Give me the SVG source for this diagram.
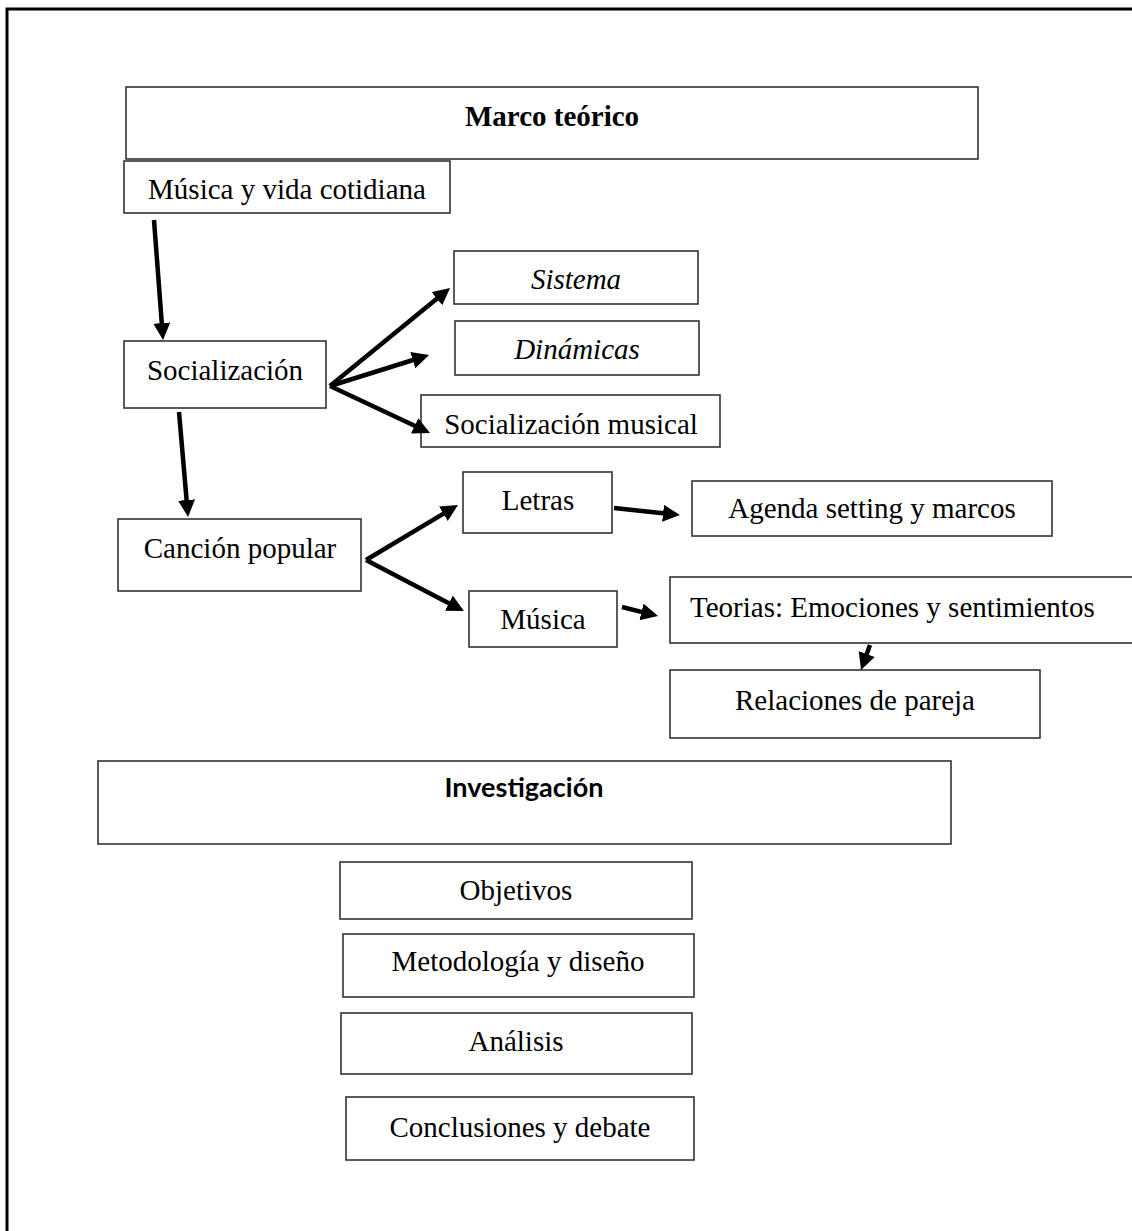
<svg xmlns="http://www.w3.org/2000/svg" width="1132" height="1231" viewBox="0 0 1132 1231">
  <style>
    .box { fill: #ffffff; stroke: #333333; stroke-width: 1.6; }
    .lbl { font-family: "Liberation Serif", "Times New Roman", serif; font-size: 29px; fill: #000000; text-anchor: middle; }
    .start { text-anchor: start; }
    .it { font-style: italic; }
    .bold { font-weight: bold; }
    .sans { font-family: Lato, "Open Sans", "Liberation Sans", sans-serif; font-weight: bold; font-size: 26px; }
    .arrow { fill: none; stroke: #000000; stroke-width: 4.5; stroke-linecap: butt; marker-end: url(#head); }
  </style>
  <defs>
    <marker id="head" markerUnits="userSpaceOnUse" markerWidth="19" markerHeight="18" refX="7" refY="8.5" orient="auto">
      <path d="M0,0 L17,8.5 L0,17 z" fill="#000000"/>
    </marker>
  </defs>

  <rect x="0" y="0" width="1132" height="1231" fill="#ffffff"/>
  <!-- page frame: left and top edges only -->
  <path d="M7,1231 V9 H1132" fill="none" stroke="#000000" stroke-width="3"/>

  <g id="marco-teorico">
    <rect class="box" x="126" y="87" width="852" height="72"/>
    <text class="lbl bold" x="552" y="126">Marco teórico</text>
  </g>
  <g id="musica-vida">
    <rect class="box" x="124" y="161" width="326" height="52"/>
    <text class="lbl" x="287" y="199">Música y vida cotidiana</text>
  </g>
  <g id="socializacion">
    <rect class="box" x="124" y="341" width="202" height="67"/>
    <text class="lbl" x="225" y="380">Socialización</text>
  </g>
  <g id="sistema">
    <rect class="box" x="454" y="251" width="244" height="53"/>
    <text class="lbl it" x="576" y="289">Sistema</text>
  </g>
  <g id="dinamicas">
    <rect class="box" x="455" y="321" width="244" height="54"/>
    <text class="lbl it" x="577" y="359">Dinámicas</text>
  </g>
  <g id="socializacion-musical">
    <rect class="box" x="421" y="395" width="299" height="52"/>
    <text class="lbl" x="571" y="434">Socialización musical</text>
  </g>
  <g id="cancion-popular">
    <rect class="box" x="118" y="519" width="243" height="72"/>
    <text class="lbl" x="240" y="558">Canción popular</text>
  </g>
  <g id="letras">
    <rect class="box" x="463" y="472" width="149" height="61"/>
    <text class="lbl" x="538" y="510">Letras</text>
  </g>
  <g id="agenda">
    <rect class="box" x="692" y="481" width="360" height="55"/>
    <text class="lbl" x="872" y="518">Agenda setting y marcos</text>
  </g>
  <g id="musica">
    <rect class="box" x="469" y="591" width="148" height="56"/>
    <text class="lbl" x="543" y="629">Música</text>
  </g>
  <g id="teorias">
    <rect class="box" x="670" y="577" width="480" height="66"/>
    <text class="lbl start" x="690" y="617">Teorias: Emociones y sentimientos</text>
  </g>
  <g id="relaciones">
    <rect class="box" x="670" y="670" width="370" height="68"/>
    <text class="lbl" x="855" y="710">Relaciones de pareja</text>
  </g>
  <g id="investigacion">
    <rect class="box" x="98" y="761" width="853" height="83"/>
    <text class="lbl sans" x="524" y="797" textLength="159" lengthAdjust="spacingAndGlyphs">Investigación</text>
  </g>
  <g id="objetivos">
    <rect class="box" x="340" y="862" width="352" height="57"/>
    <text class="lbl" x="516" y="900">Objetivos</text>
  </g>
  <g id="metodologia">
    <rect class="box" x="343" y="934" width="351" height="63"/>
    <text class="lbl" x="518" y="971">Metodología y diseño</text>
  </g>
  <g id="analisis">
    <rect class="box" x="341" y="1013" width="351" height="61"/>
    <text class="lbl" x="516" y="1051">Análisis</text>
  </g>
  <g id="conclusiones">
    <rect class="box" x="346" y="1097" width="348" height="63"/>
    <text class="lbl" x="520" y="1137">Conclusiones y debate</text>
  </g>

  <g id="connectors">
    <path class="arrow" d="M154,220 L162.3,330"/>
    <path class="arrow" d="M330,386 L442.3,294.3"/>
    <path class="arrow" d="M330,386 L419.5,358"/>
    <path class="arrow" d="M330,386 L421,428.8"/>
    <path class="arrow" d="M179,412 L187.2,507"/>
    <path class="arrow" d="M366,560 L449.4,510.1"/>
    <path class="arrow" d="M366,560 L455.1,606.4"/>
    <path class="arrow" d="M614,508 L670,514"/>
    <path class="arrow" d="M622,607 L648.3,613.6"/>
    <path class="arrow" d="M870,645 L864.4,660.6"/>
  </g>
</svg>
